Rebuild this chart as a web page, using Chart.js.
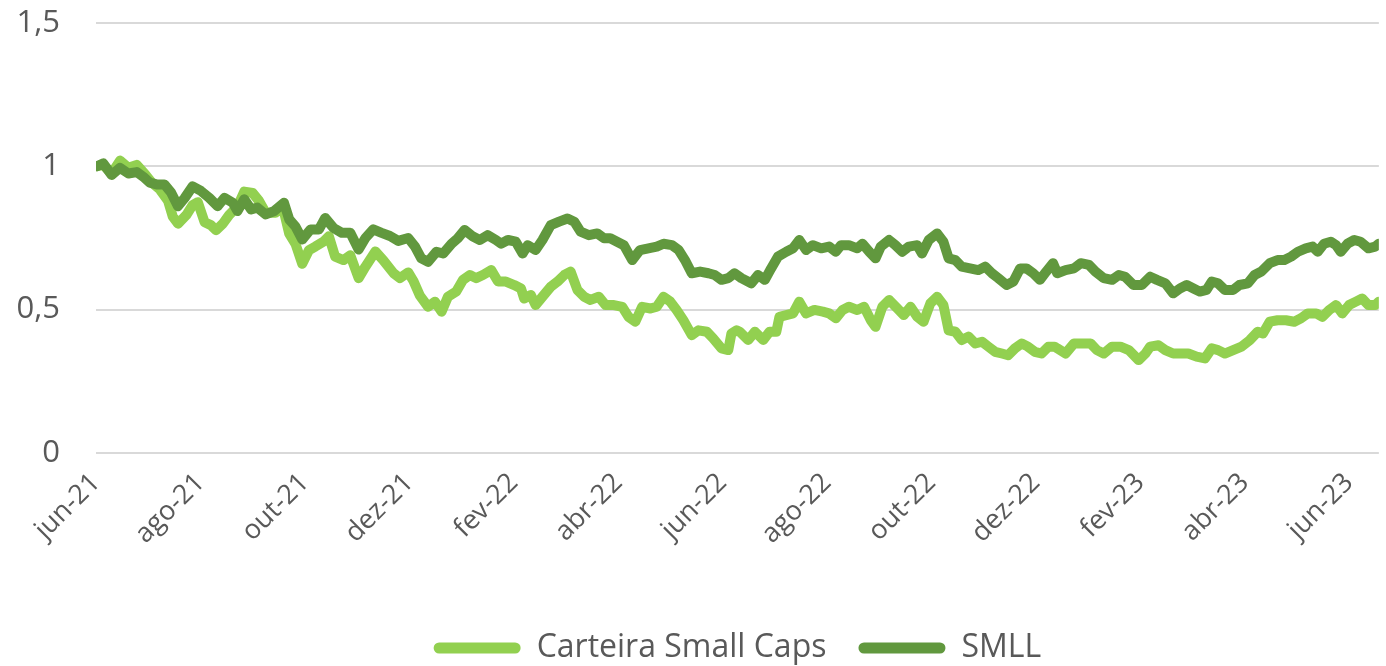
<!DOCTYPE html>
<html>
<head>
<meta charset="utf-8">
<script src="https://cdn.jsdelivr.net/npm/chart.js@4.4.1/dist/chart.umd.min.js"></script>
<style>
  html, body { margin: 0; padding: 0; background: #ffffff; }
  #wrap { width: 1386px; height: 666px; position: relative; }
</style>
</head>
<body>
<div id="wrap"><canvas id="c" width="1386" height="666"></canvas></div>
<script>
// X positions are months elapsed since jun-21 (0 = jun-21, 2 = ago-21, ...)
const xTickLabels = ['jun-21','ago-21','out-21','dez-21','fev-22','abr-22','jun-22','ago-22','out-22','dez-22','fev-23','abr-23','jun-23'];
const seriesNames = ['Carteira Small Caps', 'SMLL'];

const carteiraMonths = [0.01,0.14,0.30,0.46,0.62,0.78,0.93,1.06,1.22,1.38,1.47,1.57,1.73,1.85,1.95,2.08,2.20,2.30,2.43,2.55,2.71,2.84,3.00,3.12,3.25,3.44,3.57,3.70,3.82,3.95,4.08,4.20,4.36,4.46,4.58,4.74,4.87,5.03,5.16,5.35,5.50,5.70,5.82,5.98,6.08,6.20,6.36,6.49,6.62,6.74,6.90,7.03,7.16,7.28,7.41,7.57,7.70,7.85,8.01,8.14,8.20,8.33,8.42,8.55,8.71,8.84,8.97,9.09,9.22,9.35,9.47,9.63,9.76,9.92,10.08,10.20,10.33,10.46,10.62,10.74,10.87,11.00,11.12,11.25,11.41,11.54,11.70,11.82,11.98,12.11,12.17,12.27,12.33,12.49,12.62,12.78,12.90,13.03,13.09,13.22,13.35,13.47,13.60,13.76,13.92,14.04,14.17,14.30,14.42,14.58,14.71,14.84,14.93,15.06,15.19,15.35,15.47,15.60,15.73,15.85,15.98,16.11,16.23,16.33,16.46,16.58,16.71,16.84,16.97,17.09,17.22,17.35,17.47,17.60,17.73,17.85,17.98,18.11,18.24,18.36,18.41,18.57,18.73,18.89,19.05,19.17,19.30,19.46,19.62,19.78,19.97,20.10,20.19,20.35,20.48,20.63,20.79,20.92,21.08,21.24,21.37,21.49,21.62,21.78,21.94,22.10,22.25,22.35,22.48,22.63,22.79,22.95,23.08,23.21,23.37,23.49,23.62,23.75,23.87,24.00,24.13,24.25,24.37,24.50,24.57];
const carteiraValues = [1.00,1.005,0.975,1.02,0.995,1.005,0.975,0.945,0.92,0.88,0.825,0.80,0.83,0.865,0.875,0.805,0.795,0.777,0.80,0.83,0.86,0.912,0.907,0.88,0.838,0.838,0.865,0.765,0.73,0.66,0.708,0.72,0.738,0.756,0.685,0.673,0.69,0.61,0.65,0.703,0.673,0.627,0.61,0.63,0.60,0.55,0.51,0.528,0.493,0.545,0.563,0.604,0.621,0.61,0.621,0.638,0.598,0.598,0.586,0.574,0.539,0.551,0.516,0.545,0.58,0.598,0.621,0.633,0.569,0.545,0.534,0.545,0.516,0.516,0.51,0.475,0.458,0.51,0.504,0.51,0.545,0.528,0.499,0.463,0.411,0.428,0.423,0.40,0.365,0.359,0.417,0.428,0.423,0.394,0.423,0.394,0.423,0.423,0.475,0.481,0.487,0.528,0.487,0.499,0.493,0.487,0.47,0.499,0.51,0.499,0.51,0.463,0.44,0.51,0.534,0.504,0.481,0.51,0.475,0.458,0.522,0.545,0.516,0.428,0.423,0.394,0.406,0.382,0.388,0.371,0.353,0.347,0.341,0.365,0.382,0.371,0.353,0.347,0.371,0.371,0.365,0.347,0.382,0.382,0.382,0.359,0.347,0.371,0.371,0.359,0.324,0.347,0.371,0.376,0.359,0.347,0.347,0.347,0.336,0.33,0.365,0.359,0.347,0.359,0.371,0.394,0.423,0.417,0.458,0.463,0.463,0.458,0.47,0.487,0.487,0.475,0.499,0.516,0.487,0.516,0.528,0.539,0.516,0.516,0.528];

const smllMonths = [0.01,0.14,0.30,0.46,0.62,0.78,0.93,1.03,1.16,1.31,1.44,1.57,1.70,1.85,2.01,2.17,2.33,2.46,2.62,2.71,2.84,2.97,3.09,3.25,3.41,3.60,3.70,3.82,3.95,4.11,4.27,4.39,4.55,4.71,4.87,5.03,5.16,5.31,5.47,5.63,5.79,5.98,6.11,6.23,6.36,6.52,6.65,6.81,6.93,7.06,7.22,7.35,7.50,7.66,7.76,7.89,8.04,8.17,8.27,8.42,8.55,8.71,8.87,9.03,9.16,9.28,9.44,9.60,9.73,9.85,9.98,10.11,10.27,10.42,10.58,10.74,10.87,11.03,11.16,11.28,11.41,11.57,11.73,11.85,11.98,12.11,12.23,12.36,12.55,12.68,12.81,12.93,13.06,13.22,13.35,13.47,13.60,13.73,13.89,14.04,14.17,14.27,14.42,14.58,14.68,14.81,14.93,15.03,15.19,15.31,15.44,15.57,15.73,15.82,15.95,16.11,16.23,16.33,16.46,16.58,16.74,16.90,17.03,17.16,17.28,17.44,17.57,17.70,17.82,17.95,18.08,18.20,18.33,18.41,18.57,18.73,18.86,19.02,19.14,19.30,19.46,19.59,19.71,19.87,20.03,20.19,20.32,20.48,20.63,20.76,20.89,21.02,21.14,21.27,21.37,21.49,21.62,21.78,21.90,22.06,22.19,22.32,22.48,22.63,22.76,22.89,23.02,23.17,23.30,23.40,23.52,23.65,23.75,23.84,23.97,24.10,24.22,24.37,24.50,24.57];
const smllValues = [1.00,1.01,0.97,0.995,0.975,0.98,0.96,0.943,0.937,0.937,0.908,0.861,0.89,0.93,0.914,0.89,0.861,0.89,0.873,0.844,0.885,0.85,0.856,0.832,0.844,0.873,0.815,0.79,0.745,0.78,0.78,0.82,0.785,0.768,0.768,0.71,0.75,0.78,0.768,0.757,0.74,0.75,0.72,0.679,0.667,0.702,0.696,0.73,0.749,0.778,0.755,0.743,0.76,0.743,0.73,0.743,0.737,0.696,0.725,0.708,0.743,0.795,0.807,0.818,0.807,0.772,0.76,0.766,0.749,0.749,0.737,0.725,0.673,0.708,0.714,0.72,0.73,0.725,0.708,0.673,0.627,0.633,0.627,0.621,0.604,0.61,0.627,0.61,0.592,0.621,0.604,0.644,0.685,0.702,0.714,0.743,0.708,0.725,0.714,0.72,0.702,0.725,0.725,0.714,0.73,0.702,0.679,0.72,0.743,0.725,0.702,0.72,0.725,0.696,0.743,0.766,0.737,0.679,0.673,0.65,0.644,0.638,0.65,0.627,0.61,0.586,0.598,0.644,0.644,0.627,0.604,0.633,0.662,0.627,0.638,0.644,0.662,0.656,0.633,0.61,0.604,0.621,0.615,0.586,0.586,0.615,0.604,0.592,0.557,0.574,0.586,0.574,0.563,0.569,0.598,0.592,0.569,0.569,0.586,0.592,0.621,0.633,0.662,0.673,0.673,0.685,0.702,0.714,0.72,0.702,0.73,0.737,0.725,0.702,0.73,0.743,0.737,0.714,0.72,0.73];

const xMax = 24.57;
const yMin = 0, yMax = 1.5, yStep = 0.5;

const FONT = '"Open Sans", Lato, sans-serif';
const TXT = '#595959';

function toPoints(xs, ys) { return xs.map((x, i) => ({ x: x, y: ys[i] })); }

new Chart(document.getElementById('c'), {
  type: 'line',
  data: {
    datasets: [
      {
        label: seriesNames[0],
        data: toPoints(carteiraMonths, carteiraValues),
        borderColor: '#92D050',
        backgroundColor: '#92D050',
        borderWidth: 10,
        pointRadius: 0,
        tension: 0,
        borderJoinStyle: 'round',
        borderCapStyle: 'round',
        order: 1
      },
      {
        label: seriesNames[1],
        data: toPoints(smllMonths, smllValues),
        borderColor: '#61983E',
        backgroundColor: '#61983E',
        borderWidth: 10,
        pointRadius: 0,
        tension: 0,
        borderJoinStyle: 'round',
        borderCapStyle: 'round',
        order: 0
      }
    ]
  },
  options: {
    responsive: false,
    animation: false,
    devicePixelRatio: 1,
    layout: { padding: { top: 23, left: 0, right: 0, bottom: -8 } },
    plugins: {
      tooltip: { enabled: false },
      legend: {
        position: 'bottom',
        fullSize: false,
        labels: {
          color: TXT,
          font: { family: FONT, size: 32 },
          boxWidth: 87,
          boxHeight: 11,
          useBorderRadius: true,
          borderRadius: 5.5,
          padding: 32,
          generateLabels: (chart) => Chart.defaults.plugins.legend.labels.generateLabels(chart)
            .map(l => Object.assign(l, { lineWidth: 0 }))
            .sort((a, b) => a.datasetIndex - b.datasetIndex)
        }
      }
    },
    scales: {
      x: {
        type: 'linear',
        min: 0,
        max: xMax,
        grid: { display: false, drawTicks: false },
        border: { display: false },
        afterBuildTicks: (scale) => {
          scale.ticks = xTickLabels.map((_, i) => ({ value: i * 2 }));
        },
        afterFit: (scale) => { scale.height = 147; },
        ticks: {
          color: TXT,
          font: { family: FONT, size: 27 },
          minRotation: 45,
          maxRotation: 45,
          padding: 14,
          autoSkip: false,
          callback: (v) => xTickLabels[Math.round(v / 2)]
        }
      },
      y: {
        min: yMin,
        max: yMax,
        grid: { color: '#D9D9D9', lineWidth: 2, drawTicks: true, tickLength: 36, tickColor: 'rgba(0,0,0,0)' },
        border: { display: false },
        afterFit: (scale) => { scale.width = 96; },
        ticks: {
          stepSize: yStep,
          color: TXT,
          font: { family: FONT, size: 31 },
          padding: 0,
          callback: (v) => String(v).replace('.', ',')
        }
      }
    }
  }
});
</script>
</body>
</html>
